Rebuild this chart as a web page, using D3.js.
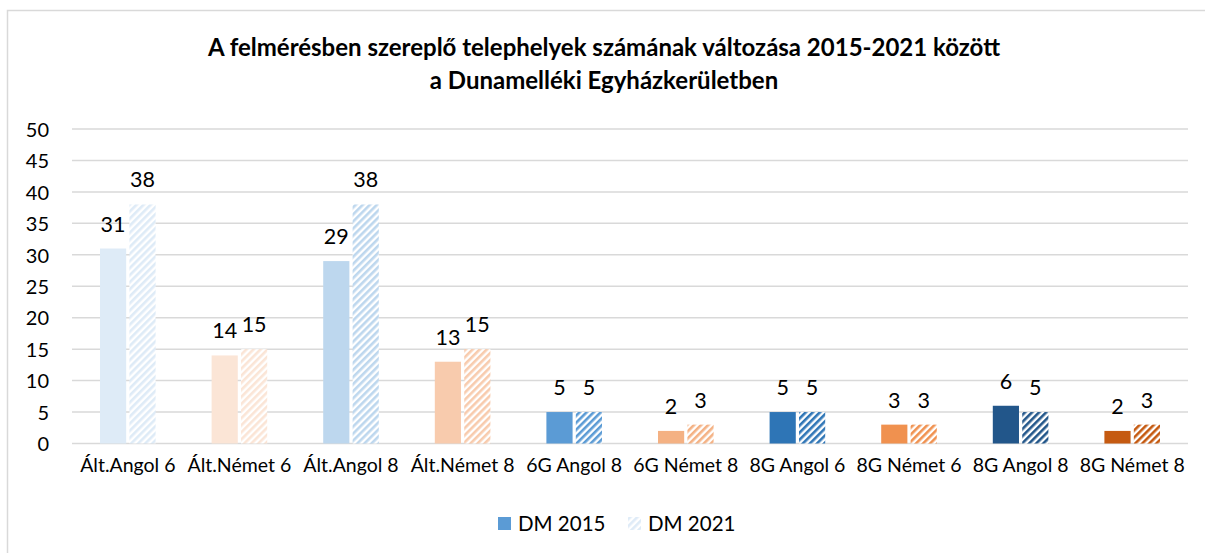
<!DOCTYPE html>
<html><head><meta charset="utf-8">
<script src="https://cdn.jsdelivr.net/npm/d3@7"></script>
<style>
html,body{margin:0;padding:0;background:#fff;}
svg text{font-family:Lato,"Open Sans",sans-serif;fill:#000;}
</style></head>
<body>
<svg id="chart" width="1205" height="553"></svg>
<script>
const categories = ["Ált.Angol 6","Ált.Német 6","Ált.Angol 8","Ált.Német 8","6G Angol 8","6G Német 8","8G Angol 6","8G Német 6","8G Angol 8","8G Német 8"];
const dm2015 = [31,14,29,13,5,2,5,3,6,2];
const dm2021 = [38,15,38,15,5,3,5,3,5,3];
const seriesNames = ["DM 2015","DM 2021"];
const barColors = ["#deebf7","#fbe5d6","#bdd7ee","#f8cbad","#5b9bd5","#f4b183","#2e75b6","#f0914f","#22568a","#c55a11"];
const yTicks = [0,5,10,15,20,25,30,35,40,45,50];
const titleLines = ["A felmérésben szereplő telephelyek számának változása 2015-2021 között","a Dunamelléki Egyházkerületben"];

const svg = d3.select("#chart");
const W = 1205, H = 553;
svg.append("rect").attr("x",0).attr("y",0).attr("width",W).attr("height",H).attr("fill","#fff");
// chart frame
svg.append("rect").attr("x",7.5).attr("y",10.5).attr("width",W+20).attr("height",H+20)
  .attr("fill","none").attr("stroke","#d9d9d9").attr("stroke-width",1.5);

const defs = svg.append("defs");
function hatch(id,color){
  const p = defs.append("pattern").attr("id",id).attr("patternUnits","userSpaceOnUse")
    .attr("width",5).attr("height",5).attr("patternTransform","rotate(45)");
  p.append("rect").attr("width",5).attr("height",5).attr("fill","#fff");
  p.append("rect").attr("x",0).attr("y",0).attr("width",2.6).attr("height",5).attr("fill",color);
}
barColors.forEach((c,i)=>hatch("h"+i,c));

const x = d3.scaleBand().domain(categories).range([72,1188]).paddingInner(0).paddingOuter(0);
const y = d3.scaleLinear().domain([0,50]).range([443.5,129]);
const inner = d3.scaleBand().domain(seriesNames).range([28, x.bandwidth()-28]).paddingInner(0.11);

// gridlines
svg.append("g").selectAll("line").data(yTicks).join("line")
  .attr("x1",72).attr("x2",1188).attr("y1",d=>y(d)).attr("y2",d=>y(d))
  .attr("stroke","#d9d9d9").attr("stroke-width",1.5);

// y axis labels
const yAxis = d3.axisLeft(y).tickValues(yTicks).tickSize(0).tickPadding(0);
const yg = svg.append("g").attr("transform","translate(49,0)").call(yAxis);
yg.select(".domain").remove();
yg.selectAll("text").attr("font-size",20).attr("dy","0.36em").style("font-family","Lato");

// x axis labels
const xAxis = d3.axisBottom(x).tickSize(0).tickPadding(0);
const xg = svg.append("g").attr("transform","translate(0,458)").call(xAxis);
xg.select(".domain").remove();
xg.selectAll("text").attr("font-size",19.5).attr("dy","0.74em").style("font-family","Lato");

// bars
const series = [dm2015, dm2021];
series.forEach((vals,si)=>{
  const g = svg.append("g");
  g.selectAll("rect").data(vals).join("rect")
    .attr("x",(d,i)=>x(categories[i])+inner(seriesNames[si]))
    .attr("width",inner.bandwidth())
    .attr("y",d=>y(d)).attr("height",d=>y(0)-y(d))
    .attr("fill",(d,i)=> si===0 ? barColors[i] : `url(#h${i})`);
  g.selectAll("text").data(vals).join("text")
    .attr("x",(d,i)=>x(categories[i])+inner(seriesNames[si])+inner.bandwidth()/2)
    .attr("y",d=>y(d)-17)
    .attr("text-anchor","middle").attr("font-size",21.5)
    .text(d=>d);
});

// title
svg.append("g").selectAll("text").data(titleLines).join("text")
  .attr("x",604).attr("y",(d,i)=>56+i*33)
  .attr("text-anchor","middle").attr("font-size",24).attr("font-weight","bold")
  .text(d=>d);

// legend
const legend = svg.append("g");
const legItems = [{name:seriesNames[0],fill:"#5b9bd5",x:498},{name:seriesNames[1],fill:"url(#h0)",x:628}];
legItems.forEach(it=>{
  legend.append("rect").attr("x",it.x).attr("y",517).attr("width",13).attr("height",13).attr("fill",it.fill);
  legend.append("text").attr("x",it.x+20).attr("y",530.5).attr("font-size",20.5).text(it.name);
});
</script>
</body></html>
